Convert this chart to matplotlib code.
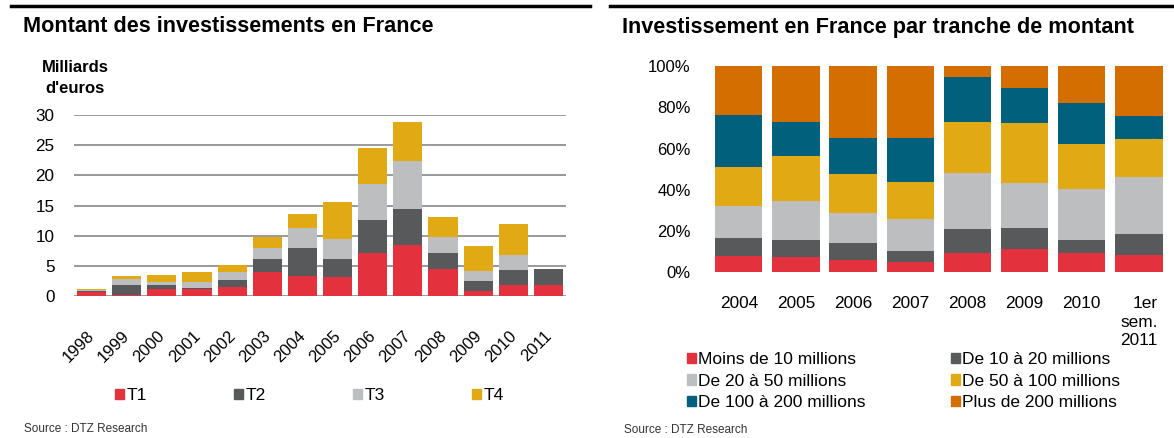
import numpy as np
import matplotlib.pyplot as plt
from matplotlib.patches import Patch
from matplotlib.transforms import ScaledTranslation

plt.rcParams['font.family'] = ['Liberation Sans', 'DejaVu Sans']

# Left chart: investment amounts (billions of euros), by quarter
years = ['1998', '1999', '2000', '2001', '2002', '2003', '2004',
         '2005', '2006', '2007', '2008', '2009', '2010', '2011']
t1 = [0.6, 0.15, 1.1, 1.1, 1.45, 3.9, 3.3, 3.2, 7.1, 8.4, 4.5, 0.8, 1.9, 1.9]
t2 = [0.3, 1.6, 0.7, 0.3, 1.15, 2.2, 4.7, 2.9, 5.5, 6.1, 2.7, 1.7, 2.35, 2.6]
t3 = [0.15, 1.05, 0.5, 0.9, 1.3, 1.9, 3.2, 3.3, 5.9, 7.8, 2.5, 1.6, 2.6, 0.0]
t4 = [0.15, 0.5, 1.1, 1.7, 1.2, 1.8, 2.4, 6.2, 6.0, 6.5, 3.4, 4.2, 5.15, 0.0]
quarters = ['T1', 'T2', 'T3', 'T4']

# Right chart: share of investment by amount bracket (%)
periods = ['2004', '2005', '2006', '2007', '2008', '2009', '2010',
           '1er\nsem.\n2011']
moins_10 = [8.1, 7.3, 6.1, 5.0, 9.5, 11.3, 9.5, 8.2]
de_10_20 = [8.4, 8.4, 8.1, 5.2, 11.5, 10.3, 6.3, 10.2]
de_20_50 = [15.8, 18.9, 14.4, 15.6, 27.3, 21.5, 24.4, 28.0]
de_50_100 = [18.9, 21.8, 19.1, 18.1, 24.7, 29.1, 21.8, 18.2]
de_100_200 = [25.1, 16.3, 17.6, 21.0, 21.5, 17.1, 20.2, 11.0]
plus_200 = [23.7, 27.3, 34.7, 35.1, 5.5, 10.7, 17.8, 24.4]
brackets = ['Moins de 10 millions', 'De 10 à 20 millions',
            'De 20 à 50 millions', 'De 50 à 100 millions',
            'De 100 à 200 millions', 'Plus de 200 millions']

red = '#e3313d'
dark = '#58595b'
light = '#bdbec0'
yellow = '#e1a913'
teal = '#01607b'
orange = '#d46e00'

W, H = 1174, 438
fig = plt.figure(figsize=(W / 100, H / 100), dpi=100)


def fx(px):
    return px / W


def fy(py):
    return 1 - py / H


# header rules
fig.add_artist(plt.Line2D([fx(11), fx(590)], [fy(5.5)] * 2, color='black', lw=2.5))
fig.add_artist(plt.Line2D([fx(610), 1.0], [fy(5.5)] * 2, color='black', lw=2.5))

fig.text(fx(23), fy(27), 'Montant des investissements en France',
         fontsize=15.6, fontweight='bold', va='center', ha='left')
fig.text(fx(622), fy(27), 'Investissement en France par tranche de montant',
         fontsize=15.6, fontweight='bold', va='center', ha='left')
fig.text(fx(75.5), fy(78), "Milliards\nd'euros", fontsize=12,
         fontweight='bold', va='center', ha='center', multialignment='center',
         linespacing=1.45)
fig.text(fx(24), fy(429), 'Source : DTZ Research', fontsize=8.5,
         va='center', color='#333333')
fig.text(fx(624), fy(430), 'Source : DTZ Research', fontsize=8.5,
         va='center', color='#333333')

# ---- left chart ----
ax1 = fig.add_axes([fx(74), fy(296), fx(566) - fx(74), fy(115) - fy(296)])
x = np.arange(len(years))
bottom = np.zeros(len(years))
for vals, col, lab in zip([t1, t2, t3, t4], [red, dark, light, yellow], quarters):
    ax1.bar(x, vals, 0.83, bottom=bottom, color=col, label=lab, zorder=3)
    bottom += np.array(vals)
ax1.set_xlim(-0.5, len(years) - 0.5)
ax1.set_ylim(0, 30)
ax1.set_yticks(range(0, 31, 5))
ax1.yaxis.grid(True, color='#929292', lw=1.3, zorder=0)
ax1.set_xticks(x)
ax1.set_xticklabels(years, rotation=45, ha='right', fontsize=12)
ax1.tick_params(axis='x', length=0, pad=23)
ax1.tick_params(axis='y', length=0, pad=14, labelsize=12.3)
for s in ax1.spines.values():
    s.set_visible(False)
# nudge the slanted year labels right, like the original
shift = ScaledTranslation(0.06, 0, fig.dpi_scale_trans)
for lbl in ax1.get_xticklabels():
    lbl.set_transform(lbl.get_transform() + shift)

handles1 = [Patch(color=c) for c in [red, dark, light, yellow]]
fig.legend(handles1, quarters, loc='center left',
           bbox_to_anchor=(fx(115), fy(396)), ncol=4, frameon=False,
           fontsize=12.5, handlelength=0.53, handleheight=0.53,
           handletextpad=0.15, columnspacing=5.0, borderpad=0, borderaxespad=0)

# ---- right chart ----
ax2 = fig.add_axes([fx(710.2), fy(272.3), fx(1167.4) - fx(710.2), fy(66) - fy(272.3)])
xp = np.arange(len(periods))
bottom = np.zeros(len(periods))
series = [moins_10, de_10_20, de_20_50, de_50_100, de_100_200, plus_200]
cols = [red, dark, light, yellow, teal, orange]
for vals, col in zip(series, cols):
    ax2.bar(xp, vals, 0.83, bottom=bottom, color=col, zorder=3)
    bottom += np.array(vals)
ax2.set_xlim(-0.5, len(periods) - 0.5)
ax2.set_ylim(0, 100)
ax2.set_yticks(range(0, 101, 20))
ax2.set_yticklabels([f'{v}%' for v in range(0, 101, 20)])
ax2.set_xticks(xp)
ax2.set_xticklabels(periods, fontsize=12.4, linespacing=1.3, va='top',
                    multialignment='right')
ax2.tick_params(axis='x', length=0, pad=17)
ax2.tick_params(axis='y', length=0, pad=14, labelsize=12)
for s in ax2.spines.values():
    s.set_visible(False)

# legend filled row by row as in the original
order = [0, 2, 4, 1, 3, 5]
handles2 = [Patch(color=cols[i]) for i in order]
labels2 = [brackets[i] for i in order]
fig.legend(handles2, labels2, loc='upper left',
           bbox_to_anchor=(fx(686.7), fy(352)), ncol=2, frameon=False,
           fontsize=12.5, handlelength=0.53, handleheight=0.53,
           handletextpad=0.13, columnspacing=4.9, labelspacing=0.38,
           borderpad=0, borderaxespad=0)

fig.savefig('out.png', dpi=100)
